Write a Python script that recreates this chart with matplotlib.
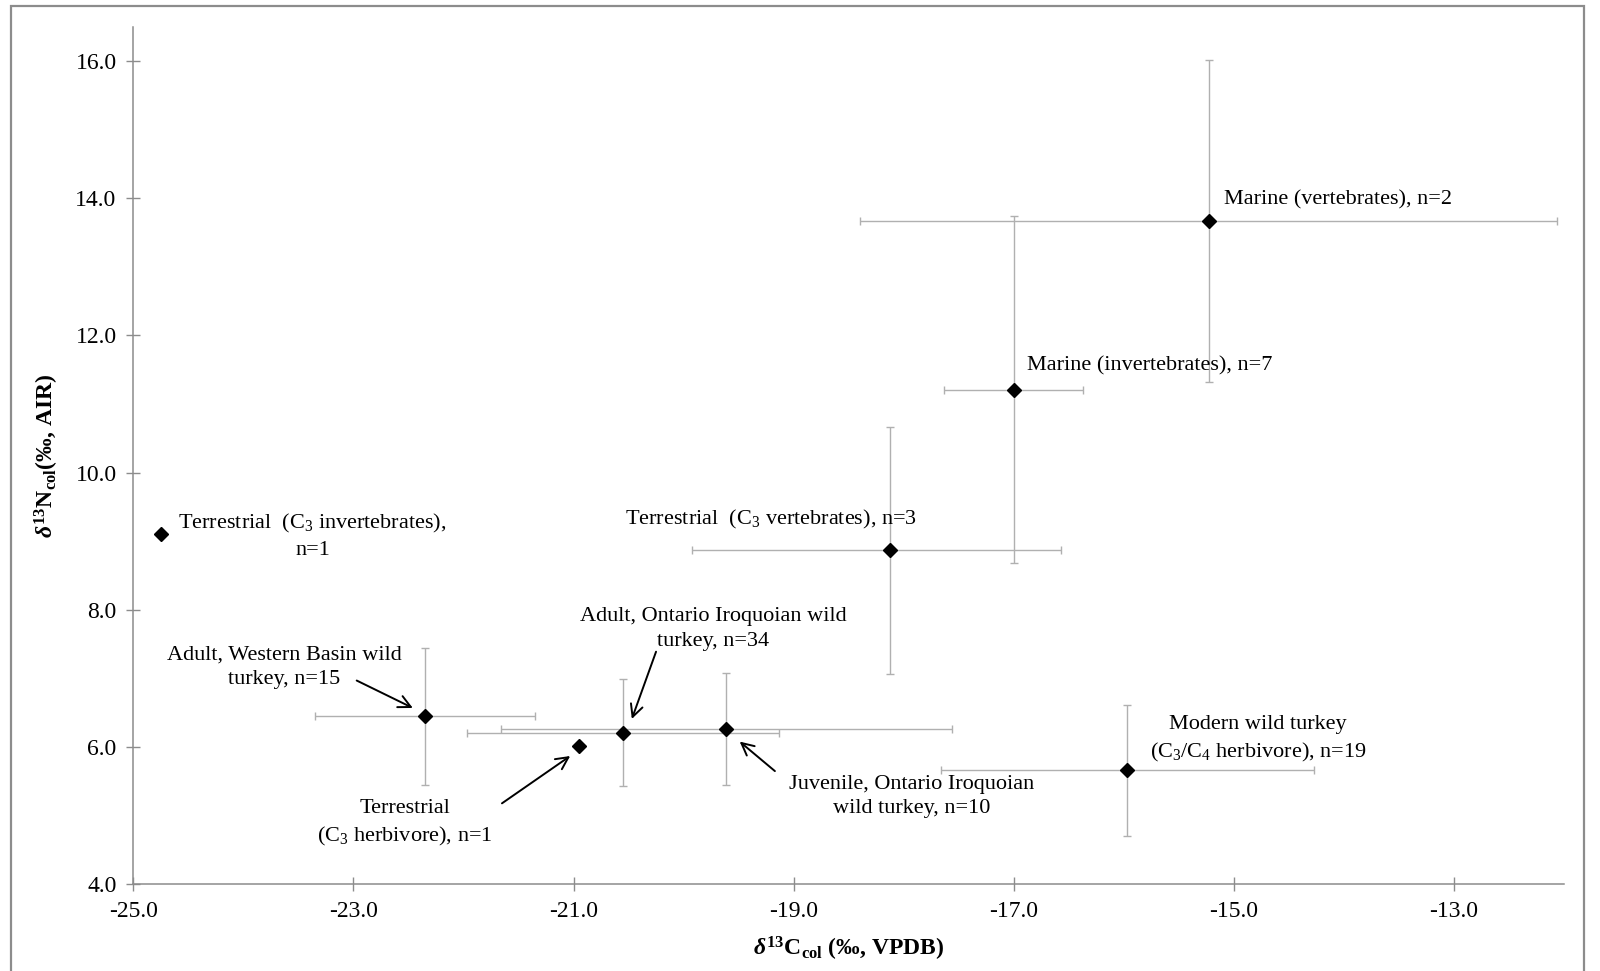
import numpy as np
import matplotlib
matplotlib.use('Agg')
from matplotlib import pyplot as plt
from matplotlib.patches import Rectangle

plt.rcParams['font.family'] = ['Liberation Serif', 'DejaVu Serif']
plt.rcParams['mathtext.fontset'] = 'custom'
plt.rcParams['mathtext.rm'] = 'Liberation Serif'
plt.rcParams['mathtext.it'] = 'Liberation Serif:italic:bold'
plt.rcParams['mathtext.bf'] = 'Liberation Serif:bold'
plt.rcParams['axes.unicode_minus'] = False

# group means and spreads
groups = ['Terrestrial (C3 invertebrates)', 'Adult, Western Basin wild turkey', 'Terrestrial (C3 herbivore)',
          'Adult, Ontario Iroquoian wild turkey', 'Juvenile, Ontario Iroquoian wild turkey',
          'Terrestrial (C3 vertebrates)', 'Marine (invertebrates)', 'Marine (vertebrates)', 'Modern wild turkey']
n = np.array([1, 15, 1, 34, 10, 3, 7, 2, 19])
d13c = np.array([-24.75, -22.35, -20.95, -20.55, -19.61, -18.12, -17.00, -15.23, -15.97])
d15n = np.array([9.11, 6.45, 6.01, 6.21, 6.26, 8.87, 11.21, 13.67, 5.66])
d13c_err_lo = np.array([0, 1.00, 0, 1.42, 2.05, 1.80, 0.63, 3.17, 1.69])
d13c_err_hi = np.array([0, 1.00, 0, 1.42, 2.05, 1.55, 0.63, 3.17, 1.70])
d15n_err = np.array([0, 1.00, 0, 0.78, 0.82, 1.80, 2.53, 2.35, 0.96])

xticks = np.arange(-25, -12, 2)
yticks = np.arange(4, 17, 2)

fig = plt.figure(figsize=(16, 9.71), dpi=100)
ax = fig.add_axes([0.0833, 0.0893, 0.8942, 0.8832])

# frame around the whole chart, like the excel chart area
fig.patches.append(Rectangle((11 / 1600, -0.02), 1573 / 1600, 1.02 - 6 / 971, transform=fig.transFigure,
                             fill=False, edgecolor='#8c8c8c', lw=1.6))

sd = n > 1
ax.errorbar(d13c[sd], d15n[sd], xerr=[d13c_err_lo[sd], d13c_err_hi[sd]], yerr=d15n_err[sd],
            fmt='none', ecolor='#b0b0b0', elinewidth=1, capsize=3.2, capthick=1, zorder=2)
ax.plot(d13c, d15n, 'D', color='black', markersize=6.8, linestyle='none', zorder=3)

ax.set_xlim(-25, -12)
ax.set_ylim(4, 16.5)
ax.set_xticks(xticks)
ax.set_yticks(yticks)
ax.xaxis.set_major_formatter('{x:.1f}')
ax.yaxis.set_major_formatter('{x:.1f}')
for s in ['top', 'right']:
    ax.spines[s].set_visible(False)
for s in ['left', 'bottom']:
    ax.spines[s].set_color('#8c8c8c')
    ax.spines[s].set_linewidth(1.1)
ax.tick_params(direction='inout', length=10, width=1, color='#8c8c8c', labelsize=17, pad=7)

ax.set_xlabel(r'$\mathit{\delta}^{\mathbf{13}}\mathbf{C}_{\mathbf{col}}$ (‰, VPDB)', fontsize=17,
              fontweight='bold', labelpad=9)
ax.set_ylabel(r'$\mathit{\delta}^{\mathbf{13}}\mathbf{N}_{\mathbf{col}}$(‰, AIR)', fontsize=17,
              fontweight='bold', labelpad=10)

fs = 16
ls = 1.42
ax.text(-23.37, 9.08, 'Terrestrial  (C$_3$ invertebrates),\nn=1', fontsize=fs, ha='center', va='center',
        linespacing=ls)
ax.text(-23.63, 7.16, 'Adult, Western Basin wild\nturkey, n=15', fontsize=fs, ha='center', va='center',
        linespacing=ls)
ax.text(-19.73, 7.72, 'Adult, Ontario Iroquoian wild\nturkey, n=34', fontsize=fs, ha='center', va='center',
        linespacing=ls)
ax.text(-17.93, 5.28, 'Juvenile, Ontario Iroquoian\nwild turkey, n=10', fontsize=fs, ha='center', va='center',
        linespacing=ls)
ax.text(-22.53, 4.88, 'Terrestrial\n(C$_3$ herbivore), n=1', fontsize=fs, ha='center', va='center',
        linespacing=ls)
ax.text(-14.78, 6.11, 'Modern wild turkey\n(C$_3$/C$_4$ herbivore), n=19', fontsize=fs, ha='center', va='center',
        linespacing=ls)
ax.text(-15.09, 13.97, 'Marine (vertebrates), n=2', fontsize=fs, ha='left', va='center')
ax.text(-16.88, 11.55, 'Marine (invertebrates), n=7', fontsize=fs, ha='left', va='center')
ax.text(-19.21, 9.32, 'Terrestrial  (C$_3$ vertebrates), n=3', fontsize=fs, ha='center', va='center')

arrow = dict(arrowstyle='->', color='black', lw=1.4, mutation_scale=22, shrinkA=0, shrinkB=0)
ax.annotate('', xy=(-22.46, 6.57), xytext=(-22.97, 6.97), arrowprops=arrow)
ax.annotate('', xy=(-20.47, 6.41), xytext=(-20.25, 7.39), arrowprops=arrow)
ax.annotate('', xy=(-19.49, 6.08), xytext=(-19.17, 5.65), arrowprops=arrow)
ax.annotate('', xy=(-21.03, 5.87), xytext=(-21.65, 5.18), arrowprops=arrow)

fig.savefig('out.png', dpi=100, facecolor='white')
